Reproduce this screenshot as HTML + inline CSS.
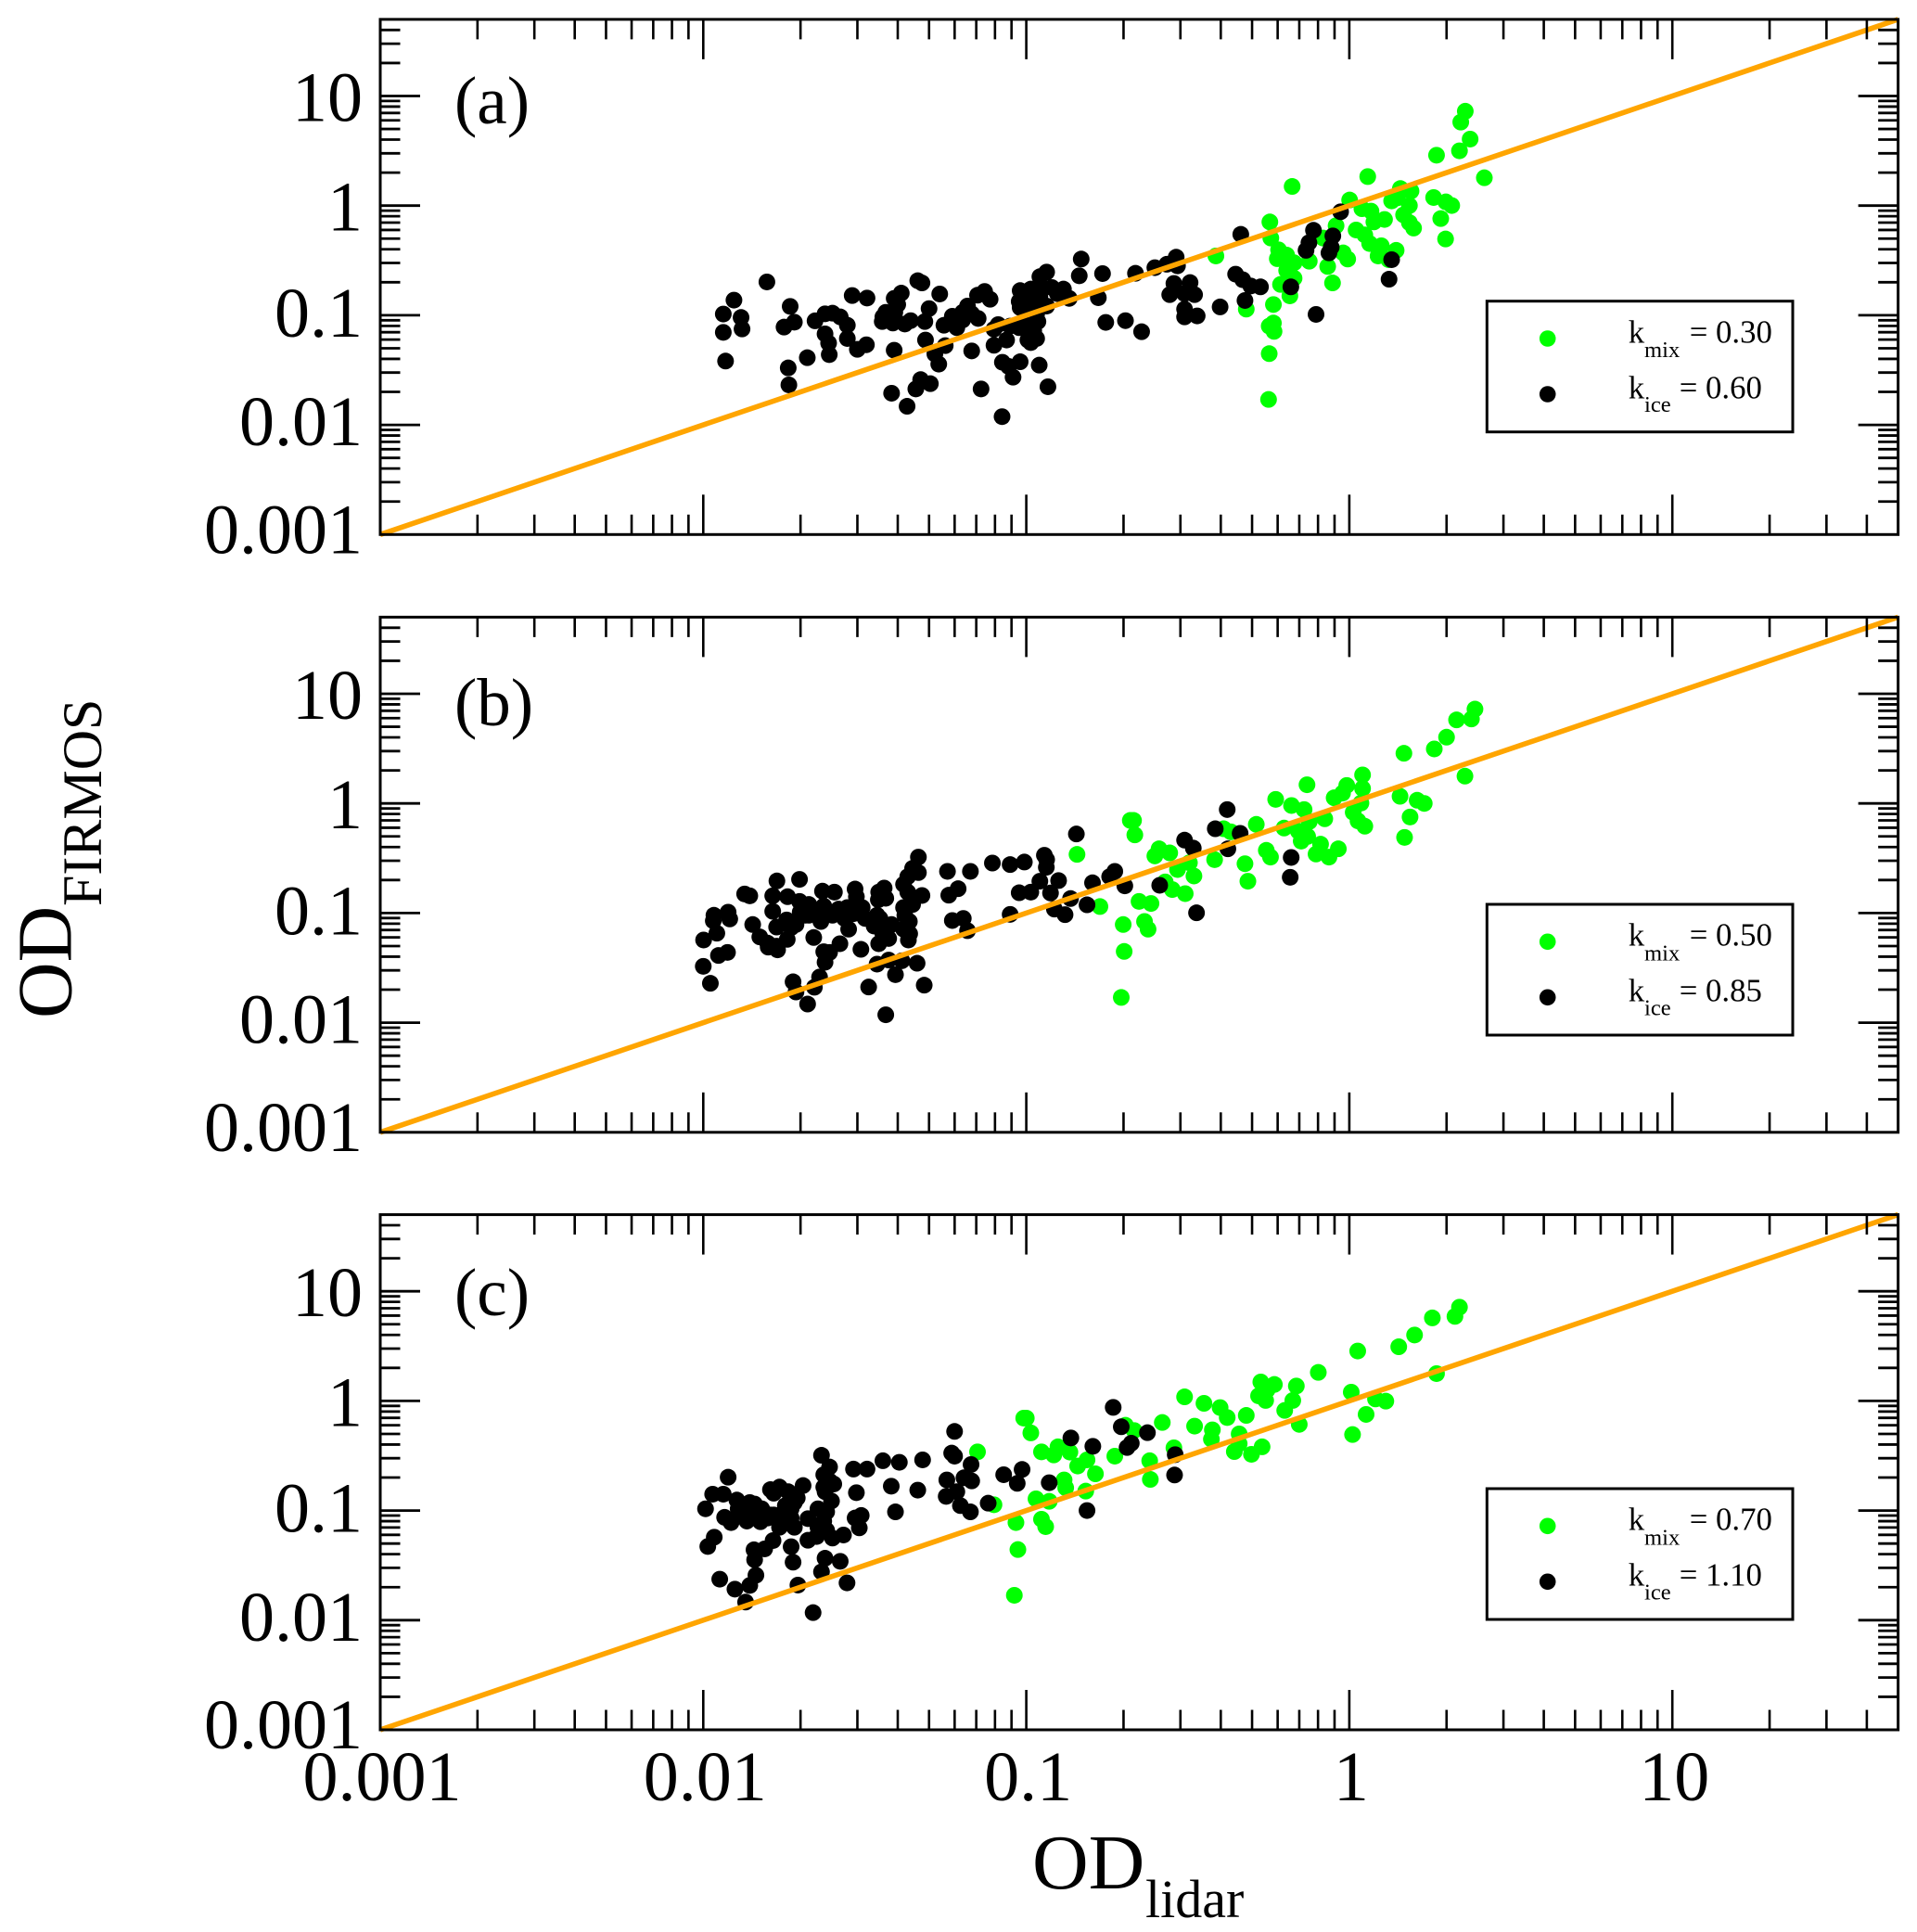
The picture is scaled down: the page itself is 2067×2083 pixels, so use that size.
<!DOCTYPE html>
<html lang="en">
<head>
<meta charset="utf-8">
<title>OD FIRMOS vs OD lidar</title>
<style>
html,body{margin:0;padding:0;background:#fff;}
#figure{display:block;width:2067px;height:2083px;}
text{font-family:"Liberation Serif",serif;fill:#000;}
</style>
</head>
<body>
<svg id="figure" xmlns="http://www.w3.org/2000/svg" width="2067" height="2083" viewBox="0 0 2067 2083"></svg>
<script>
/* Values are log10(OD) pairs [OD_lidar, OD_FIRMOS]. */
const panelAIce = [[-1.905,-.862],[-1.938,-.989],[-1.938,-1.156],[-1.883,-1.020],[-1.880,-1.125],[-1.931,-1.418],[-1.803,-.696],[-1.731,-.919],[-1.718,-1.063],[-1.750,-1.108],[-1.678,-1.387],[-1.737,-1.480],[-1.735,-1.635],[-1.654,-1.051],[-1.623,-.987],[-1.600,-.981],[-1.576,-1.015],[-1.554,-1.091],[-1.623,-1.170],[-1.612,-1.254],[-1.554,-1.212],[-1.610,-1.359],[-1.523,-1.311],[-1.495,-1.269],[-1.539,-.820],[-1.493,-.843],[-1.409,-1.319],[-1.417,-1.711],[-1.369,-1.830],[-1.342,-1.672],[-1.327,-1.587],[-1.297,-1.624],[-1.336,-.685],[-1.323,-.705],[-1.268,-.806],[-1.301,-.939],[-1.387,-.798],[-1.409,-.846],[-1.398,-.902],[-1.435,-.973],[-1.446,-1.057],[-1.413,-1.071],[-1.376,-1.080],[-1.358,-1.049],[-1.314,-1.057],[-1.312,-1.226],[-1.283,-1.353],[-1.251,-1.277],[-1.271,-1.446],[-1.255,-1.091],[-1.229,-1.009],[-1.215,-1.113],[-1.197,-1.043],[-1.182,-.916],[-1.169,-.987],[-1.149,-1.029],[-1.169,-1.325],[-1.140,-1.672],[-1.100,-1.127],[-1.100,-1.274],[-1.061,-1.226],[-1.074,-1.429],[-1.055,-1.466],[-1.041,-1.565],[-1.019,-1.424],[-1.075,-1.925],[-.960,-1.455],[-.933,-1.652],[-.986,-1.249],[-.968,-1.212],[-.964,-1.057],[-.977,-1.142],[-1.022,-1.113],[-1.019,-.930],[-1.019,-.775],[-.995,-.831],[-.986,-.761],[-.958,-.648],[-.937,-.606],[-1.151,-.817],[-1.129,-.783],[-1.112,-.854],[-.958,-.747],[-.921,-.747],[-.885,-.761],[-.867,-.846],[-.937,-.916],[-.830,-.487],[-.836,-.640],[-.764,-.620],[-.777,-.840],[-.754,-1.065],[-.693,-1.049],[-.643,-1.150],[-.662,-.617],[-.602,-.566],[-.565,-.535],[-.536,-.470],[-.532,-.549],[-.543,-.710],[-.493,-.702],[-.556,-.812],[-.510,-.803],[-.479,-.812],[-.510,-.944],[-.510,-1.015],[-.471,-1.006],[-.400,-.924],[-.352,-.625],[-.330,-.676],[-.305,-.733],[-.275,-.741],[-.336,-.262],[-.323,-.865],[-.181,-.741],[-.103,-.992],[-.027,-.056],[-.111,-.225],[-.125,-.338],[-.134,-.408],[-.051,-.276],[-.056,-.380],[-.063,-.431],[.131,-.493],[.123,-.671],[-.995,-.902],[-.968,-.987],[-1.004,-1.085],[-1.197,-.973],[-1.407,-.973],[-.977,-.775],[-1.050,-1.099],[-.977,-.944],[-.904,-.803],[-1.022,-.874],[-.958,-.831],[-1.087,-1.085],[-.995,-1.226],[-1.444,-1.015]];
const panelAMix = [[.359,.861],[.345,.762],[.374,.607],[.341,.500],[.270,.460],[.418,.254],[.057,.265],[-.177,.175],[.158,.156],[.191,.133],[.261,.074],[.299,.034],[.317,.001],[.283,-.118],[.298,-.304],[.001,.051],[.039,-.028],[.067,-.050],[.076,-.149],[.109,-.126],[.131,.043],[.149,.071],[.186,.001],[.168,-.084],[.186,-.155],[.199,-.205],[-.041,-.183],[.021,-.222],[.048,-.267],[.063,-.346],[.099,-.366],[.145,-.408],[.089,-.459],[.122,-.493],[-.081,-.296],[-.019,-.431],[-.005,-.487],[-.067,-.555],[-.052,-.705],[-.124,-.507],[-.246,-.149],[-.243,-.296],[-.413,-.459],[-.219,-.403],[-.194,-.451],[-.223,-.484],[-.171,-.521],[-.194,-.592],[-.171,-.662],[-.213,-.719],[-.184,-.823],[-.319,-.944],[-.235,-.902],[-.235,-1.071],[-.248,-1.099],[-.233,-1.147],[-.248,-1.350],[-.250,-1.768]];
const panelBIce = [[-1.872,-.826],[-1.856,-.843],[-1.772,-.707],[-1.702,-.693],[-1.785,-.843],[-1.739,-.851],[-1.702,-.894],[-1.673,-.922],[-1.785,-.984],[-1.967,-1.020],[-1.923,-.992],[-1.918,-1.054],[-1.969,-1.071],[-1.847,-1.105],[-1.825,-1.218],[-1.958,-1.184],[-1.999,-1.246],[-1.799,-1.311],[-1.770,-1.336],[-1.740,-1.240],[-1.773,-1.128],[-1.742,-1.063],[-1.713,-1.105],[-1.658,-1.223],[-1.684,-1.020],[-1.645,-1.020],[-1.618,-.992],[-1.581,-.964],[-1.535,-1.006],[-1.499,-1.049],[-1.471,-1.119],[-1.627,-1.353],[-1.609,-1.359],[-1.577,-1.280],[-1.512,-1.331],[-1.623,-1.449],[-1.925,-1.359],[-1.953,-1.387],[-2.000,-1.486],[-1.978,-1.641],[-1.722,-1.627],[-1.713,-1.720],[-1.656,-1.677],[-1.640,-1.584],[-1.677,-1.830],[-1.488,-1.675],[-1.462,-1.466],[-1.426,-1.429],[-1.385,-1.435],[-1.405,-1.562],[-1.338,-1.458],[-1.316,-1.658],[-1.435,-1.928],[-1.457,-1.280],[-1.426,-1.232],[-1.365,-1.246],[-1.380,-1.147],[-1.376,-1.020],[-1.417,-1.105],[-1.550,-1.147],[-1.631,-.800],[-1.594,-.809],[-1.530,-.781],[-1.526,-.851],[-1.440,-.772],[-1.457,-.809],[-1.435,-.865],[-1.458,-.879],[-1.352,-.922],[-1.367,-.809],[-1.323,-.840],[-1.367,-.668],[-1.334,-.631],[-1.352,-.592],[-1.334,-.490],[-1.244,-.620],[-1.173,-.620],[-1.105,-.544],[-1.050,-.558],[-1.006,-.535],[-.944,-.473],[-.937,-.513],[-.938,-.583],[-1.240,-.837],[-1.211,-.778],[-1.229,-1.068],[-1.195,-1.049],[-1.182,-1.161],[-1.050,-1.012],[-1.022,-.815],[-.986,-.809],[-.958,-.710],[-.925,-.817],[-.900,-.704],[-.913,-.964],[-.880,-1.015],[-.863,-.868],[-.812,-.925],[-.795,-.724],[-.742,-.668],[-.726,-.620],[-.695,-.752],[-.845,-.279],[-.587,-.747],[-.473,-.998],[-.510,-.335],[-.483,-.408],[-.415,-.231],[-.378,-.056],[-.338,-.273],[-.376,-.414],[-.180,-.493],[-.183,-.674],[-1.636,-1.077],[-1.600,-1.020],[-1.554,-.950],[-1.517,-.978],[-1.728,-1.133],[-1.801,-1.274],[-1.444,-1.189],[-1.380,-.950],[-1.673,-1.020],[-1.627,-.936],[-1.563,-1.049],[-1.508,-.950],[-1.462,-1.020],[-1.700,-.992],[-1.362,-1.077],[-1.380,-.738],[-1.361,-1.189],[-1.453,-1.049],[-1.773,-1.302]];
const panelBMix = [[.389,.860],[.378,.770],[.332,.762],[.301,.604],[.263,.497],[.169,.457],[.358,.249],[.041,.260],[.041,.136],[-.008,.164],[-.021,.094],[-.047,.051],[-.131,.170],[-.228,.037],[-.179,-.019],[-.140,-.056],[.036,.003],[.012,-.081],[.027,-.160],[.048,-.208],[.157,.065],[.210,.029],[.232,.000],[.188,-.124],[.171,-.310],[-.076,-.140],[-.124,-.166],[-.202,-.225],[-.288,-.191],[-.158,-.253],[-.149,-.344],[-.129,-.301],[-.089,-.372],[-.103,-.462],[-.063,-.490],[-.034,-.414],[-.257,-.428],[-.244,-.490],[-.323,-.550],[-.314,-.710],[-.389,-.231],[-.367,-.259],[-.678,-.155],[-.668,-.155],[-.664,-.287],[-.843,-.465],[-.589,-.414],[-.602,-.479],[-.556,-.451],[-.495,-.541],[-.417,-.513],[-.532,-.603],[-.481,-.662],[-.570,-.716],[-.548,-.786],[-.508,-.823],[-.772,-.941],[-.651,-.894],[-.614,-.913],[-.700,-1.105],[-.634,-1.077],[-.623,-1.147],[-.697,-1.350],[-.706,-1.770]];
const panelCIce = [[-1.923,-.696],[-1.971,-.851],[-1.938,-.851],[-1.993,-.984],[-1.896,-.904],[-1.934,-1.062],[-1.914,-1.110],[-1.865,-1.096],[-1.823,-1.102],[-1.856,-.927],[-1.841,-.941],[-1.819,-.984],[-1.792,-.809],[-1.764,-.786],[-1.737,-.828],[-1.691,-.772],[-1.709,-.885],[-1.728,-.984],[-1.755,-1.068],[-1.764,-1.153],[-1.718,-1.153],[-1.676,-1.074],[-1.645,-.984],[-1.634,-.496],[-1.609,-.603],[-1.627,-.673],[-1.596,-.758],[-1.623,-.828],[-1.603,-.913],[-1.627,-1.096],[-1.600,-1.251],[-1.566,-1.223],[-1.676,-1.271],[-1.649,-1.237],[-1.784,-1.274],[-1.810,-1.350],[-1.843,-1.358],[-1.841,-1.449],[-1.728,-1.330],[-1.722,-1.471],[-1.623,-1.435],[-1.576,-1.463],[-1.634,-1.559],[-1.555,-1.660],[-1.707,-1.680],[-1.660,-1.931],[-1.837,-1.590],[-1.856,-1.683],[-1.949,-1.626],[-1.902,-1.717],[-1.869,-1.835],[-1.966,-1.243],[-1.986,-1.328],[-1.535,-.622],[-1.493,-.622],[-1.444,-.546],[-1.393,-.560],[-1.321,-.538],[-1.418,-.778],[-1.526,-.837],[-1.336,-.814],[-1.405,-1.012],[-1.530,-1.068],[-1.511,-1.045],[-1.517,-1.158],[-1.231,-.476],[-1.222,-.504],[-1.222,-.278],[-1.171,-.580],[-1.246,-.721],[-1.193,-.701],[-1.169,-.730],[-1.215,-.828],[-1.248,-.871],[-1.204,-.955],[-1.173,-1.012],[-1.118,-.933],[-1.070,-.673],[-1.013,-.625],[-1.028,-.752],[-.929,-.746],[-.862,-.338],[-.794,-.414],[-.812,-1.000],[-.731,-.059],[-.706,-.236],[-.625,-.290],[-.675,-.386],[-.688,-.425],[-.539,-.490],[-.541,-.676],[-1.892,-.984],[-1.792,-1.040],[-1.728,-.899],[-1.618,-.758],[-1.618,-1.012],[-1.801,-1.068],[-1.883,-1.040],[-1.837,-.998],[-1.782,-1.040],[-1.746,-.955],[-1.718,-.927],[-1.728,-1.068],[-1.618,-1.181],[-1.609,-.730],[-1.627,-.786],[-1.782,-.842],[-1.645,-1.153]];
const panelCMix = [[.341,.855],[.327,.771],[.257,.757],[.202,.601],[.153,.494],[.026,.455],[.270,.249],[-.096,.260],[-.274,.173],[-.232,.150],[-.164,.136],[-.254,.102],[-.281,.046],[-.259,.004],[-.175,.004],[-.200,-.087],[.006,.080],[.081,.018],[.113,-.002],[.052,-.123],[.010,-.307],[-.155,-.214],[-.510,.037],[-.450,-.022],[-.400,-.061],[-.378,-.152],[-.319,-.132],[-.579,-.197],[-.479,-.230],[-.424,-.264],[-.427,-.349],[-.341,-.301],[-.341,-.391],[-.356,-.462],[-.303,-.487],[-.270,-.419],[-.666,-.270],[-1.008,-.157],[-1.000,-.157],[-.986,-.292],[-1.151,-.465],[-.953,-.465],[-.902,-.419],[-.915,-.493],[-.865,-.467],[-.812,-.538],[-.841,-.594],[-.786,-.665],[-.726,-.504],[-.618,-.546],[-.616,-.716],[-.543,-.428],[-.883,-.721],[-.878,-.792],[-.816,-.823],[-.970,-.893],[-.929,-.916],[-1.100,-.947],[-1.032,-1.110],[-.953,-1.079],[-.940,-1.147],[-1.026,-1.356],[-1.037,-1.773],[-.693,-.222]];

const xMajorTicks = [0.001, 0.01, 0.1, 1, 10];
const yMajorTicks = [0.001, 0.01, 0.1, 1, 10];
const minorMultipliers = [2, 3, 4, 5, 6, 7, 8, 9];
const xTickLabels = ["0.001", "0.01", "0.1", "1", "10"];
const yTickLabels = ["0.001", "0.01", "0.1", "1", "10"];
const axisMin = [0.001];
const axisMax = [50];
const oneToOneLine = [0.001, 50];
const panelLetters = ["(a)", "(b)", "(c)"];
const legendMixValues = ["0.30", "0.50", "0.70"];
const legendIceValues = ["0.60", "0.85", "1.10"];

const NS = "http://www.w3.org/2000/svg";
const svg = document.getElementById("figure");
const plotLeft = 410, xDecadePx = 348.3, yDecadePx = 118.2;
const panelBottoms = [576.3, 1220.8, 1865];
const legendTops = [324.7, 975, 1605];
const letterBaselines = [133, 782, 1418];
const labelShiftByDecade = [20, 22, 23, 27, 27];

function xScale(od) { return plotLeft + (Math.log10(od) - Math.log10(axisMin[0])) * xDecadePx; }
function yScale(od, panel) { return panelBottoms[panel] - (Math.log10(od) - Math.log10(axisMin[0])) * yDecadePx; }
function xScaleLog(v) { return xScale(Math.pow(10, v)); }
function yScaleLog(v, panel) { return yScale(Math.pow(10, v), panel); }

function make(tag, attrs, parent) {
  const el = document.createElementNS(NS, tag);
  for (const k in attrs) el.setAttribute(k, attrs[k]);
  parent.appendChild(el);
  return el;
}

function drawTicks(panel, g) {
  const top = yScale(axisMax[0], panel), bottom = yScale(axisMin[0], panel);
  const left = xScale(axisMin[0]), right = xScale(axisMax[0]);
  const xTick = function (v, len, name) {
    const x = xScale(v);
    const a = make("line", {x1: x, x2: x, y1: bottom, y2: bottom - len, stroke: "#000", "stroke-width": 2.6}, g);
    
    
    const b = make("line", {x1: x, x2: x, y1: top, y2: top + len, stroke: "#000", "stroke-width": 2.6}, g);
    
    
  };
  const yTick = function (v, len, name) {
    const y = yScale(v, panel);
    const a = make("line", {x1: left, x2: left + len, y1: y, y2: y, stroke: "#000", "stroke-width": 2.8}, g);
    
    
    const b = make("line", {x1: right, x2: right - len, y1: y, y2: y, stroke: "#000", "stroke-width": 2.8}, g);
    
    
  };
  xMajorTicks.forEach(function (d) {
    if (d > axisMin[0]) xTick(d, 43, 'x-major-tick');
    minorMultipliers.forEach(function (m) {
      const v = d * m;
      if (v < axisMax[0]) xTick(v, 21.5, 'x-minor-tick');
    });
  });
  yMajorTicks.forEach(function (d) {
    if (d > axisMin[0]) yTick(d, 43, 'y-major-tick');
    minorMultipliers.forEach(function (m) {
      const v = d * m;
      if (v < axisMax[0]) yTick(v, 21.5, 'y-minor-tick');
    });
  });
}

function drawLegend(panel, g) {
  const top = legendTops[panel];
  const box = make("rect", {x: 1603.3, y: top, width: 329.7, height: 141, fill: "#fff", stroke: "#000", "stroke-width": 3}, g);
  
  

  const d1 = make("circle", {cx: 1668.7, cy: top + 40.3, r: 8.8, fill: "#00ff00"}, g);
  
  
  const d2 = make("circle", {cx: 1668.7, cy: top + 100.3, r: 8.8, fill: "#000"}, g);
  
  

  const k1 = make("text", {x: 1755.7, y: top + 44.6, "font-size": 34.8}, g);
  k1.textContent = "k";
  
  
  const s1 = make("text", {x: 1773, y: top + 60.3, "font-size": 24.6}, g);
  s1.textContent = "mix";
  
  
  const v1 = make("text", {x: 1821.7, y: top + 44.6, "font-size": 34.8}, g);
  v1.textContent = "= " + legendMixValues[panel];
  
  

  const k2 = make("text", {x: 1755.7, y: top + 104.6, "font-size": 34.8}, g);
  k2.textContent = "k";
  
  
  const s2 = make("text", {x: 1773, y: top + 119.3, "font-size": 24.6}, g);
  s2.textContent = "ice";
  
  
  const v2 = make("text", {x: 1810.7, y: top + 104.6, "font-size": 34.8}, g);
  v2.textContent = "= " + legendIceValues[panel];
  
  
}

function drawPanel(panel, iceData, mixData, name) {
  const g = make("g", {}, svg);
  
  

  const dots = make("g", {}, g);
  
  
  mixData.forEach(function (p) {
    const c = make("circle", {cx: xScaleLog(p[0]), cy: yScaleLog(p[1], panel), r: 9, fill: "#00ff00"}, dots);
    
    
  });
  iceData.forEach(function (p) {
    const c = make("circle", {cx: xScaleLog(p[0]), cy: yScaleLog(p[1], panel), r: 9, fill: "#000"}, dots);
    
    
  });

  const line = make("line", {
    x1: xScale(oneToOneLine[0]), y1: yScale(oneToOneLine[0], panel),
    x2: xScale(oneToOneLine[1]), y2: yScale(oneToOneLine[1], panel),
    stroke: "#ffa500", "stroke-width": 5.6
  }, g);
  
  

  drawTicks(panel, g);

  const frame = make("rect", {
    x: xScale(axisMin[0]), y: yScale(axisMax[0], panel),
    width: xScale(axisMax[0]) - xScale(axisMin[0]),
    height: yScale(axisMin[0], panel) - yScale(axisMax[0], panel),
    fill: "none", stroke: "#000", "stroke-width": 3
  }, g);
  
  

  yMajorTicks.forEach(function (d, i) {
    const t = make("text", {x: 391, y: yScale(d, panel) + labelShiftByDecade[i], "font-size": 76, "text-anchor": "end"}, g);
    t.textContent = yTickLabels[i];
    
    
  });

  const letter = make("text", {x: 490, y: letterBaselines[panel], "font-size": 73}, g);
  letter.textContent = panelLetters[panel];
  
  

  drawLegend(panel, g);
}

drawPanel(0, panelAIce, panelAMix, 'panel-a');
drawPanel(1, panelBIce, panelBMix, 'panel-b');
drawPanel(2, panelCIce, panelCMix, 'panel-c');

xMajorTicks.forEach(function (d, i) {
  const t = make("text", {x: xScale(d) + 2, y: 1941, "font-size": 76, "text-anchor": "middle"}, svg);
  t.textContent = xTickLabels[i];
  
  
});

const xTitle = make("text", {x: 1113, y: 2036, "font-size": 84}, svg);
xTitle.textContent = "OD";


const xSub = make("text", {x: 1235, y: 2067, "font-size": 58}, svg);
xSub.textContent = "lidar";



const yTitle = make("text", {x: 0, y: 0, "font-size": 84, transform: "translate(76.5 1098) rotate(-90)"}, svg);
yTitle.textContent = "OD";


const ySub = make("text", {x: 0, y: 0, "font-size": 60, transform: "translate(109 977) rotate(-90)"}, svg);
ySub.textContent = "FIRMOS";


</script>
</body>
</html>
